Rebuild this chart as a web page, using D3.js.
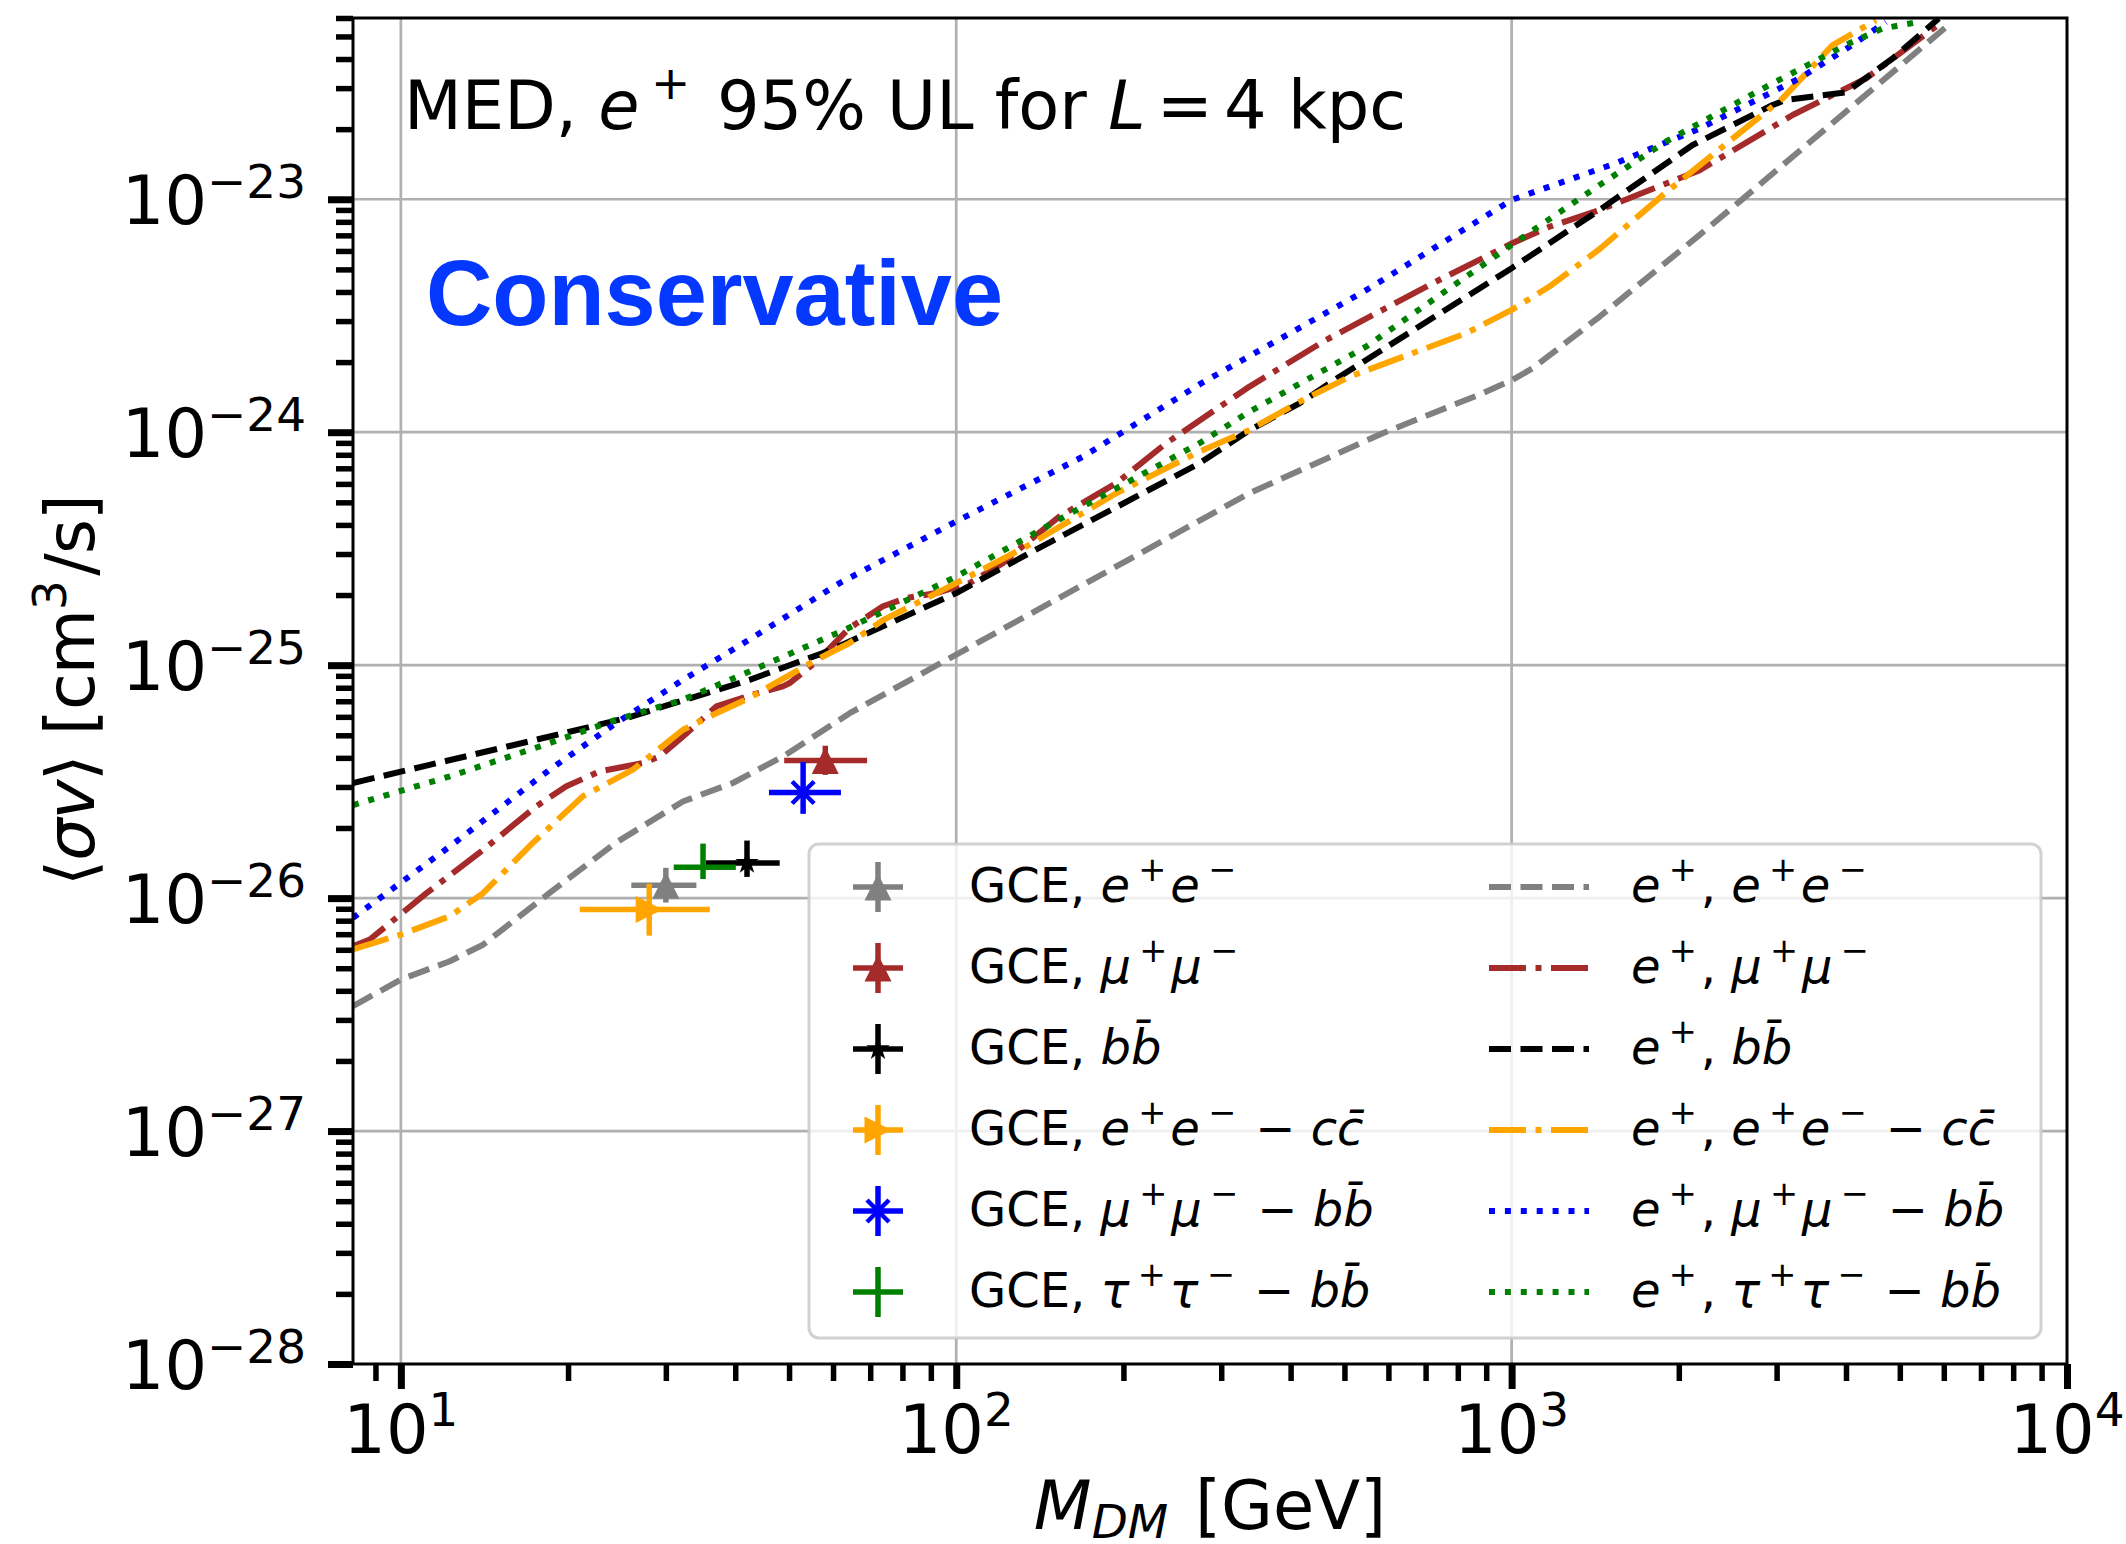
<!DOCTYPE html>
<html>
<head>
<meta charset="utf-8">
<script src="https://cdn.jsdelivr.net/npm/d3@7"></script>
<style>
  body { margin: 0; background: #fff; }
  svg { display: block; }
  text { font-family: 'DejaVu Sans', sans-serif; }
</style>
</head>
<body>
<svg id="chart" width="2126" height="1544"></svg>
<script>
// ---- Axis ticks ----
const massMajor = [10, 100, 1000, 10000];
const massMajorExp = ["1", "2", "3", "4"];
const svMajor = [1e-28, 1e-27, 1e-26, 1e-25, 1e-24, 1e-23];
const svMajorExp = ["\u221228", "\u221227", "\u221226", "\u221225", "\u221224", "\u221223"];

// ---- Positron upper limits, [M_DM (GeV), <sigma v> (cm^3/s)] ----
const ulEE = [
  [8.2, 3.44e-27], [10, 4.47e-27], [12.25, 5.36e-27], [14.06, 6.31e-27], [18.5, 1.05e-26],
  [24.4, 1.73e-26], [32.2, 2.60e-26], [39.6, 3.12e-26], [48.8, 4.06e-26], [64.3, 6.22e-26],
  [100, 1.11e-25], [337, 5.47e-25], [586, 9.9e-25], [887, 1.47e-24], [1000, 1.67e-24],
  [1091, 1.88e-24], [1439, 3.13e-24], [2178, 7.02e-24], [2570, 9.75e-24], [6209, 5.77e-23]
];
const ulMuMu = [
  [8.2, 6.21e-27], [8.79, 6.64e-27], [11.12, 1.05e-26], [14.06, 1.61e-26], [17.54, 2.48e-26],
  [19.86, 3.02e-26], [22.8, 3.50e-26], [27.29, 3.80e-26], [29.24, 4.06e-26], [32.21, 4.94e-26],
  [36.98, 6.65e-26], [42.46, 7.41e-26], [48.75, 8.11e-26], [50.12, 8.38e-26], [55.98, 1.035e-25],
  [64.27, 1.445e-25], [73.79, 1.79e-25], [81.28, 1.94e-25], [92.04, 2.04e-25], [105.7, 2.25e-25],
  [121.3, 2.74e-25], [133.7, 3.34e-25], [153.5, 4.35e-25], [194.1, 6.04e-25], [238.8, 8.97e-25],
  [337.3, 1.57e-24], [463.4, 2.49e-24], [721.1, 4.36e-24], [1000, 6.46e-24], [1169.5, 7.62e-24],
  [1438.8, 8.99e-24], [2004.5, 1.23e-23], [2177.8, 1.33e-23], [3206, 2.30e-23], [4345, 3.30e-23],
  [5957, 5.77e-23]
];
const ulBB = [
  [8.2, 3.12e-26], [18.54, 4.94e-26], [25.47, 5.93e-26], [42.46, 8.65e-26], [57.54, 1.127e-25],
  [63.39, 1.245e-25], [100, 2.04e-25], [135.5, 3.03e-25], [274.2, 7.36e-25], [337.3, 1.02e-24],
  [415, 1.33e-24], [489.8, 1.73e-24], [1000, 5.06e-24], [1438.8, 8.99e-24], [2118, 1.71e-23],
  [2951, 2.54e-23], [3119, 2.67e-23], [3999, 2.88e-23], [4853, 4.02e-23], [5875, 5.97e-23]
];
const ulEECC = [
  [8.2, 6.03e-27], [10, 6.97e-27], [12.25, 8.36e-27], [14.06, 1.05e-26], [17.3, 1.73e-26],
  [21.28, 2.74e-26], [26.18, 3.56e-26], [32.21, 5.28e-26], [36.98, 6.22e-26], [42.46, 7.24e-26],
  [55.98, 1.054e-25], [64.27, 1.245e-25], [73.79, 1.56e-25], [100, 2.25e-25], [133.7, 3.23e-25],
  [194.1, 5.47e-25], [274.2, 8.26e-25], [337.3, 1.023e-24], [415, 1.35e-24], [510.5, 1.73e-24],
  [827.9, 2.66e-24], [1000, 3.35e-24], [1169.5, 4.22e-24], [1438.8, 6.10e-24], [1896.7, 1.07e-23],
  [2500, 1.82e-23], [3076, 2.71e-23], [3784, 4.59e-23], [4529, 5.87e-23]
];
const ulMuMuBB = [
  [8.2, 8.22e-27], [12.25, 1.667e-26], [18.54, 3.56e-26], [24.43, 5.65e-26], [32.21, 8.65e-26],
  [42.46, 1.29e-25], [61.66, 2.25e-25], [100, 4.14e-25], [169, 7.85e-25], [276, 1.62e-24],
  [547, 4.07e-24], [1000, 9.93e-24], [1542, 1.43e-23], [2178, 2.01e-23], [3296, 3.30e-23],
  [4055, 4.51e-23], [4721, 5.77e-23]
];
const ulTauTauBB = [
  [8.2, 2.51e-26], [12.25, 3.33e-26], [18.54, 4.63e-26], [24.43, 5.83e-26], [32.21, 7.11e-26],
  [42.46, 9.40e-26], [64.27, 1.45e-25], [100, 2.40e-25], [169, 4.80e-25], [274.2, 8.97e-25],
  [337.3, 1.225e-24], [547, 2.33e-24], [1000, 6.37e-24], [1439, 1.15e-23], [1897, 1.77e-23],
  [2871, 3.04e-23], [4055, 4.67e-23], [4656, 5.41e-23], [5408, 5.77e-23]
];

// ---- Galactic Centre Excess best-fit points ----
const gceMass   = [30.0, 58.1, 42.0, 28.0, 53.0, 35.0];
const gceMassLo = [26.0, 49.0, 35.4, 21.0, 46.0, 31.0];
const gceMassHi = [34.05, 69.1, 48.1, 36.0, 62.0, 40.1];
const gceSV     = [1.135e-26, 3.90e-26, 1.416e-26, 8.93e-27, 2.84e-26, 1.355e-26];
const gceSVLo   = [9.57e-27, 3.38e-26, 1.233e-26, 6.90e-27, 2.30e-26, 1.208e-26];
const gceSVHi   = [1.349e-26, 4.51e-26, 1.766e-26, 1.153e-26, 3.84e-26, 1.714e-26];

// ---- Styles ----
const C = { gray: "#808080", brown: "#a52a2a", black: "#000000", orange: "#ffa500", blue: "#0000ff", green: "#008000" };
const LW = 6;
const DASH = { dashed: "22,9.5", dashdot: "37,9.5,6,9.5", dotted: "6,9.9" };

const curves = [
  { data: ulEE, color: C.gray, style: "dashed" },
  { data: ulMuMu, color: C.brown, style: "dashdot" },
  { data: ulBB, color: C.black, style: "dashed" },
  { data: ulEECC, color: C.orange, style: "dashdot" },
  { data: ulMuMuBB, color: C.blue, style: "dotted" },
  { data: ulTauTauBB, color: C.green, style: "dotted" }
];
const gceStyle = [
  { color: C.gray, marker: "tri-up" },
  { color: C.brown, marker: "tri-up" },
  { color: C.black, marker: "star" },
  { color: C.orange, marker: "tri-right" },
  { color: C.blue, marker: "x" },
  { color: C.green, marker: "none" }
];

// ---- Math-style text helper ----
const N = t => ({ t });
const I = t => ({ t, it: true });
const U = t => ({ t, sup: true });
const D = t => ({ t, sub: true, it: true });
function mathText(sel, parts, size, supShift = 0.42, subShift = 0.16) {
  let cur = 0, prev = null;
  parts.forEach(p => {
    if (typeof p === "string") p = N(p);
    const off = p.sup ? -supShift * size : p.sub ? subShift * size : 0;
    const ts = sel.append("tspan").text(p.t)
      .attr("font-size", (p.sup || p.sub) ? size * 0.7 : size);
    if (p.it) ts.attr("font-style", "italic");
    if (off !== cur) ts.attr("dy", off - cur);
    // italic correction before a superscript, small gap after a script
    let dx = 0;
    if (p.sup && prev && prev.it && !prev.sup) dx = 0.17 * size;
    else if (!p.sup && !p.sub && prev && (prev.sup || prev.sub)) dx = 0.08 * size;
    if (dx) ts.attr("dx", dx);
    cur = off;
    prev = p;
  });
}
// keep a label within a given run length
function fitLength(sel, maxLen) {
  const L = sel.node().getComputedTextLength();
  if (L > maxLen) sel.attr("textLength", maxLen).attr("lengthAdjust", "spacing");
}

const gceLabels = [
  ["GCE, ", I("e"), U("+"), I("e"), U("\u2212")],
  ["GCE, ", I("\u03bc"), U("+"), I("\u03bc"), U("\u2212")],
  ["GCE, ", I("b"), I("b\u0304")],
  ["GCE, ", I("e"), U("+"), I("e"), U("\u2212"), " \u2212 ", I("c"), I("c\u0304")],
  ["GCE, ", I("\u03bc"), U("+"), I("\u03bc"), U("\u2212"), " \u2212 ", I("b"), I("b\u0304")],
  ["GCE, ", I("\u03c4"), U("+"), I("\u03c4"), U("\u2212"), " \u2212 ", I("b"), I("b\u0304")]
];
const ulLabels = [
  [I("e"), U("+"), ", ", I("e"), U("+"), I("e"), U("\u2212")],
  [I("e"), U("+"), ", ", I("\u03bc"), U("+"), I("\u03bc"), U("\u2212")],
  [I("e"), U("+"), ", ", I("b"), I("b\u0304")],
  [I("e"), U("+"), ", ", I("e"), U("+"), I("e"), U("\u2212"), " \u2212 ", I("c"), I("c\u0304")],
  [I("e"), U("+"), ", ", I("\u03bc"), U("+"), I("\u03bc"), U("\u2212"), " \u2212 ", I("b"), I("b\u0304")],
  [I("e"), U("+"), ", ", I("\u03c4"), U("+"), I("\u03c4"), U("\u2212"), " \u2212 ", I("b"), I("b\u0304")]
];

// ---- Layout ----
const P = { left: 353, right: 2067, top: 18, bottom: 1364 };
const x = d3.scaleLog().domain([8.2, 1e4]).range([P.left, P.right]);
const y = d3.scaleLog().domain([1e-28, 6e-23]).range([P.bottom, P.top]);

const svg = d3.select("#chart");
svg.append("rect").attr("width", 2126).attr("height", 1544).attr("fill", "#fff");
svg.append("defs").append("clipPath").attr("id", "plotclip")
  .append("rect").attr("x", P.left).attr("y", P.top)
  .attr("width", P.right - P.left).attr("height", P.bottom - P.top);

// grid
const grid = svg.append("g").attr("stroke", "#b0b0b0").attr("stroke-width", 2.7);
grid.selectAll("line.gx").data(massMajor.filter(v => v > 8.2 && v < 1e4)).join("line")
  .attr("x1", d => x(d)).attr("x2", d => x(d)).attr("y1", P.top).attr("y2", P.bottom);
grid.selectAll("line.gy").data(svMajor.filter(v => v > 1e-28)).join("line")
  .attr("y1", d => y(d)).attr("y2", d => y(d)).attr("x1", P.left).attr("x2", P.right);

// upper-limit curves
const line = d3.line().x(d => x(d[0])).y(d => y(d[1]));
const curveG = svg.append("g").attr("clip-path", "url(#plotclip)");
curves.forEach(c => {
  curveG.append("path").attr("d", line(c.data)).attr("fill", "none")
    .attr("stroke", c.color).attr("stroke-width", LW)
    .attr("stroke-dasharray", DASH[c.style]).attr("stroke-linejoin", "round");
});

// markers
function drawMarker(g, type, cx, cy, color) {
  const s = 13.5;
  if (type === "tri-up") {
    g.append("path").attr("d", `M${cx},${cy - s}L${cx - s},${cy + s}L${cx + s},${cy + s}Z`).attr("fill", color);
  } else if (type === "tri-right") {
    g.append("path").attr("d", `M${cx + s},${cy}L${cx - s},${cy - s}L${cx - s},${cy + s}Z`).attr("fill", color);
  } else if (type === "x") {
    const r = 11;
    g.append("path").attr("d", `M${cx - r},${cy - r}L${cx + r},${cy + r}M${cx - r},${cy + r}L${cx + r},${cy - r}`)
      .attr("stroke", color).attr("stroke-width", 4.5);
  } else if (type === "star") {
    g.append("path").attr("d", d3.symbol(d3.symbolStar, 170)()).attr("transform", `translate(${cx},${cy})`).attr("fill", color);
  }
}

// GCE points with error bars
const gceG = svg.append("g").attr("clip-path", "url(#plotclip)");
gceMass.forEach((m, i) => {
  const st = gceStyle[i];
  gceG.append("line").attr("x1", x(gceMassLo[i])).attr("x2", x(gceMassHi[i]))
    .attr("y1", y(gceSV[i])).attr("y2", y(gceSV[i])).attr("stroke", st.color).attr("stroke-width", 5.5);
  gceG.append("line").attr("x1", x(m)).attr("x2", x(m))
    .attr("y1", y(gceSVLo[i])).attr("y2", y(gceSVHi[i])).attr("stroke", st.color).attr("stroke-width", 5.5);
  drawMarker(gceG, st.marker, x(m), y(gceSV[i]), st.color);
});

// axes: ticks drawn with d3 axes
const massMinor = [];
[1, 10, 100, 1000].forEach(d => [2, 3, 4, 5, 6, 7, 8, 9].forEach(k => { const v = k * d; if (v > 8.2 && v < 1e4) massMinor.push(v); }));
const svMinor = [];
[1e-28, 1e-27, 1e-26, 1e-25, 1e-24, 1e-23].forEach(d => [2, 3, 4, 5, 6, 7, 8, 9].forEach(k => { const v = k * d; if (v <= 6.01e-23) svMinor.push(v); }));

function styleAxis(g, w) {
  g.select(".domain").remove();
  g.selectAll(".tick line").attr("stroke", "#000").attr("stroke-width", w);
  g.selectAll(".tick text").remove();
}
svg.append("g").attr("transform", `translate(0,${P.bottom})`)
  .call(d3.axisBottom(x).tickValues(massMinor).tickSize(17).tickFormat(""))
  .call(g => styleAxis(g, 5.5));
svg.append("g").attr("transform", `translate(0,${P.bottom})`)
  .call(d3.axisBottom(x).tickValues(massMajor).tickSize(25).tickFormat(""))
  .call(g => styleAxis(g, 7));
svg.append("g").attr("transform", `translate(${P.left},0)`)
  .call(d3.axisLeft(y).tickValues(svMinor).tickSize(17).tickFormat(""))
  .call(g => styleAxis(g, 5.5));
svg.append("g").attr("transform", `translate(${P.left},0)`)
  .call(d3.axisLeft(y).tickValues(svMajor).tickSize(25).tickFormat(""))
  .call(g => styleAxis(g, 7));

// tick labels
massMajor.forEach((v, i) => {
  const t = svg.append("text").attr("x", x(v)).attr("y", 1453).attr("text-anchor", "middle");
  mathText(t, ["10", U(massMajorExp[i])], 67, 0.4);
});
svMajor.forEach((v, i) => {
  const t = svg.append("text").attr("x", 306).attr("y", y(v) + 25).attr("text-anchor", "end");
  mathText(t, ["10", U(svMajorExp[i])], 67, 0.39);
});

// frame
svg.append("rect").attr("x", P.left).attr("y", P.top).attr("width", P.right - P.left)
  .attr("height", P.bottom - P.top).attr("fill", "none").attr("stroke", "#000").attr("stroke-width", 3);

// axis labels
const xl = svg.append("text").attr("x", (P.left + P.right) / 2).attr("y", 1529).attr("text-anchor", "middle");
mathText(xl, [I("M"), D("DM"), " [GeV]"], 67, 0.42, 0.13);
const yl = svg.append("text").attr("transform", `translate(94,690) rotate(-90)`).attr("text-anchor", "middle");
mathText(yl, ["\u27e8", I("\u03c3v"), "\u27e9 [cm", U("3"), "/s]"], 67, 0.42);
fitLength(yl, 392);

// annotations
const title = svg.append("text").attr("x", 404).attr("y", 129);
mathText(title, ["MED, ", I("e"), U("+"), " 95% UL for ", I("L"), "\u2006=\u20064 kpc"], 67, 0.45);
svg.append("text").attr("x", 426).attr("y", 325).text("Conservative")
  .style("font-family", "'Liberation Sans', Arial, sans-serif").style("font-weight", "bold")
  .style("font-size", "93px").style("fill", "#0538ff")
  .attr("textLength", 577).attr("lengthAdjust", "spacingAndGlyphs");

// legend
const lg = svg.append("g");
lg.append("rect").attr("x", 809).attr("y", 844).attr("width", 1232).attr("height", 494)
  .attr("rx", 10).attr("fill", "#fff").attr("fill-opacity", 0.8)
  .attr("stroke", "#cccccc").attr("stroke-opacity", 0.9).attr("stroke-width", 3);
const rowBase = i => 902 + i * 81;
gceLabels.forEach((lab, i) => {
  const st = gceStyle[i];
  const cy = rowBase(i) - 15, cx = 878;
  lg.append("line").attr("x1", cx - 25).attr("x2", cx + 25).attr("y1", cy).attr("y2", cy).attr("stroke", st.color).attr("stroke-width", 5.5);
  lg.append("line").attr("x1", cx).attr("x2", cx).attr("y1", cy - 25).attr("y2", cy + 25).attr("stroke", st.color).attr("stroke-width", 5.5);
  drawMarker(lg, st.marker, cx, cy, st.color);
  const t = lg.append("text").attr("x", 969).attr("y", rowBase(i));
  mathText(t, lab, 48, 0.44);
});
ulLabels.forEach((lab, i) => {
  const c = curves[i];
  const cy = rowBase(i) - 15;
  lg.append("line").attr("x1", 1489).attr("x2", 1589).attr("y1", cy).attr("y2", cy)
    .attr("stroke", c.color).attr("stroke-width", LW).attr("stroke-dasharray", DASH[c.style]);
  const t = lg.append("text").attr("x", 1631).attr("y", rowBase(i));
  mathText(t, lab, 48, 0.44);
});
</script>
</body>
</html>
